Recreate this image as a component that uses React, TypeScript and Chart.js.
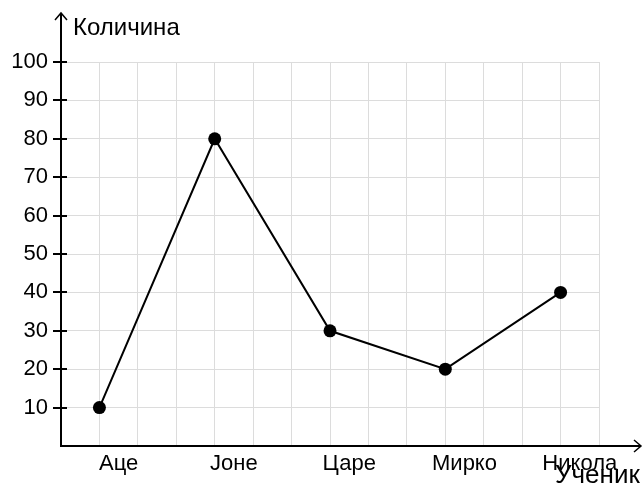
import React, { useEffect, useRef } from "react";
import { Chart, registerables } from "chart.js";

Chart.register(...registerables);

const categories = ["Аце", "Јоне", "Царе", "Мирко", "Никола"];
const values = [10, 80, 30, 20, 40];
const yTicks = [10, 20, 30, 40, 50, 60, 70, 80, 90, 100];
const yTitle = "Количина";
const xTitle = "Ученик";

const FONT = "'Liberation Sans', Arial, Helvetica, sans-serif";

export default function App() {
  const ref = useRef<HTMLCanvasElement | null>(null);

  useEffect(() => {
    if (!ref.current) return;
    const catPos = (i: number) => 1 + 3 * i;
    const labelAt: Record<string, string> = {};
    categories.forEach((c, i) => {
      labelAt[String(catPos(i) + 0.5)] = c;
    });

    const axesPlugin = {
      id: "axesPlugin",
      beforeDatasetsDraw(chart: any) {
        const { ctx, chartArea } = chart;
        const ys = chart.scales.y;
        const left = chartArea.left;
        const bottom = chartArea.bottom;
        ctx.save();
        ctx.strokeStyle = "#000";
        ctx.lineWidth = 2;
        ctx.lineCap = "butt";
        // y axis
        ctx.beginPath();
        ctx.moveTo(left, bottom + 1);
        ctx.lineTo(left, 13);
        ctx.stroke();
        ctx.beginPath();
        ctx.moveTo(left - 6, 20);
        ctx.lineTo(left, 13);
        ctx.lineTo(left + 6, 20);
        ctx.lineWidth = 1.5;
        ctx.stroke();
        // x axis
        ctx.lineWidth = 2;
        ctx.beginPath();
        ctx.moveTo(left - 1, bottom);
        ctx.lineTo(641, bottom);
        ctx.stroke();
        ctx.beginPath();
        ctx.moveTo(634, bottom - 6);
        ctx.lineTo(641, bottom);
        ctx.lineTo(634, bottom + 6);
        ctx.lineWidth = 1.5;
        ctx.stroke();
        // y tick marks
        ctx.lineWidth = 2;
        yTicks.forEach((v) => {
          const py = Math.round(ys.getPixelForValue(v));
          ctx.beginPath();
          ctx.moveTo(left - 8, py);
          ctx.lineTo(left + 6, py);
          ctx.stroke();
        });
        ctx.restore();
      },
      afterDraw(chart: any) {
        const { ctx } = chart;
        ctx.save();
        ctx.fillStyle = "#000";
        ctx.textBaseline = "alphabetic";
        ctx.textAlign = "left";
        ctx.font = `24px ${FONT}`;
        ctx.fillText(yTitle, 73, 35);
        ctx.font = `26px ${FONT}`;
        ctx.fillText(xTitle, 555, 483);
        ctx.restore();
      },
    };

    const chart = new Chart(ref.current, {
      type: "line",
      data: {
        datasets: [
          {
            data: values.map((v, i) => ({ x: catPos(i), y: v })),
            borderColor: "#000",
            backgroundColor: "#000",
            borderWidth: 2,
            pointRadius: 6.5,
            pointHoverRadius: 6.5,
            pointBackgroundColor: "#000",
            pointBorderWidth: 0,
            tension: 0,
            fill: false,
          },
        ],
      },
      options: {
        responsive: false,
        animation: false,
        events: [],
        layout: { padding: { left: 0, right: 44, top: 62, bottom: 0 } },
        plugins: {
          legend: { display: false },
          tooltip: { enabled: false },
          title: { display: false },
        },
        scales: {
          x: {
            type: "linear",
            min: 0,
            max: 14,
            border: { display: false },
            grid: {
              drawTicks: false,
              lineWidth: 1,
              color: (c: any) => {
                const v = c.tick ? c.tick.value : 0;
                if (v <= 0 || !Number.isInteger(v)) return "rgba(0,0,0,0)";
                return "#dcdcdc";
              },
            },
            ticks: {
              stepSize: 0.5,
              autoSkip: false,
              maxRotation: 0,
              padding: 5,
              color: "#000",
              font: { family: FONT, size: 22 },
              callback: (v: any) => labelAt[String(v)] || "",
            },
            afterFit: (s: any) => {
              s.height = 38;
            },
          },
          y: {
            type: "linear",
            min: 0,
            max: 100,
            border: { display: false },
            grid: {
              drawTicks: false,
              lineWidth: 1,
              color: (c: any) => {
                const v = c.tick ? c.tick.value : 0;
                if (v <= 0) return "rgba(0,0,0,0)";
                return "#dcdcdc";
              },
            },
            ticks: {
              stepSize: 10,
              padding: 13,
              color: "#000",
              font: { family: FONT, size: 22 },
              callback: (v: any) => (v === 0 ? "" : String(v)),
            },
            afterFit: (s: any) => {
              s.width = 61;
            },
          },
        },
      },
      plugins: [axesPlugin],
    });
    return () => chart.destroy();
  }, []);

  return (
    <div style={{ position: "fixed", left: 0, top: 0, width: 643, height: 484, background: "#fff" }}>
      <canvas ref={ref} width={643} height={484} style={{ display: "block" }} />
    </div>
  );
}
